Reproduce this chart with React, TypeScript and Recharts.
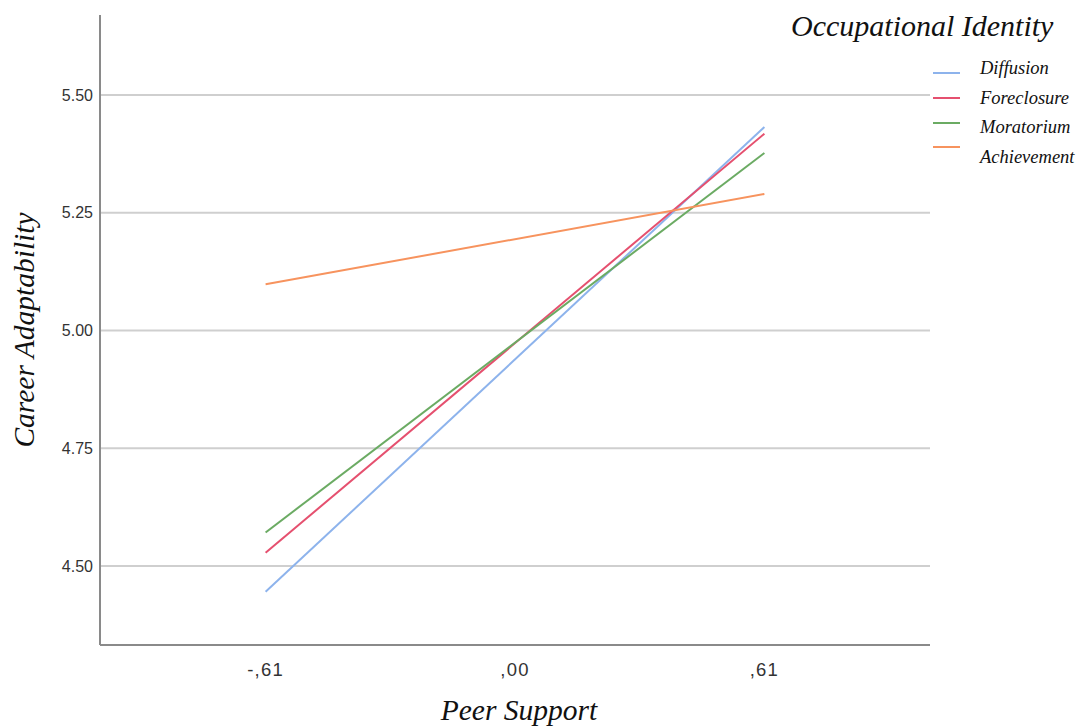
import React from 'react';
import { LineChart, Line, XAxis, YAxis, ReferenceLine, Legend } from 'recharts';

const peerSupport = [-0.61, 0.61];
const diffusion = [4.445, 5.432];
const foreclosure = [4.528, 5.418];
const moratorium = [4.571, 5.377];
const achievement = [5.098, 5.290];

const seriesNames = ['Diffusion', 'Foreclosure', 'Moratorium', 'Achievement'];
const seriesColors = ['#8db3ec', '#e5506f', '#6bab63', '#f7935e'];
const yTicks = [4.5, 4.75, 5.0, 5.25, 5.5];
const xTicks = [-0.61, 0, 0.61];

const data = peerSupport.map((x, i) => ({
  x,
  Diffusion: diffusion[i],
  Foreclosure: foreclosure[i],
  Moratorium: moratorium[i],
  Achievement: achievement[i],
}));

const serif = '"Liberation Serif", "DejaVu Serif", serif';
const sans = '"Liberation Sans", Arial, sans-serif';

const fmtX = (v: number) => {
  if (v === 0) return ',00';
  const s = Math.abs(v).toFixed(2).replace('0.', ',');
  return v < 0 ? '-' + s : s;
};

const legendTextTops = [57, 87, 116, 146];
const swatchTops = [72, 97, 122, 146];

const LegendContent = () => (
  <div style={{ fontFamily: serif, fontStyle: 'italic' }}>
    <div style={{ fontSize: 30, color: '#111', position: 'absolute', left: 791, top: 9, whiteSpace: 'nowrap', lineHeight: '34px' }}>
      Occupational Identity
    </div>
    {seriesNames.map((n, i) => (
      <React.Fragment key={n}>
        <div style={{ position: 'absolute', left: 933, top: swatchTops[i], width: 27, height: 2, background: seriesColors[i] }} />
        <div style={{ position: 'absolute', left: 980, top: legendTextTops[i], fontSize: 18.5, lineHeight: '22px', color: '#111', whiteSpace: 'nowrap' }}>{n}</div>
      </React.Fragment>
    ))}
  </div>
);

export default function App() {
  return (
    <div style={{ position: 'absolute', left: 0, top: 0, background: '#fff' }}>
      <LineChart width={1082} height={726} data={data} margin={{ top: 15, right: 152, bottom: 0, left: 0 }}>
        {yTicks.map((t) => (
          <ReferenceLine key={t} y={t} stroke="#cfcfcf" strokeWidth={2} />
        ))}
        <XAxis
          dataKey="x"
          type="number"
          domain={[-1.015, 1.015]}
          ticks={xTicks}
          tickFormatter={fmtX}
          tickLine={false}
          axisLine={{ stroke: '#8a8a8a', strokeWidth: 2 }}
          tick={{ fill: '#333', fontSize: 18.5, fontFamily: sans, letterSpacing: 1.2 }}
          tickMargin={12}
          height={81}
          label={{ value: 'Peer Support', position: 'insideBottom', offset: 6, dx: 4, style: { fontFamily: serif, fontStyle: 'italic', fontSize: 29.5, fill: '#111' } }}
        />
        <YAxis
          type="number"
          domain={[4.332, 5.67]}
          ticks={yTicks}
          tickFormatter={(v: number) => v.toFixed(2)}
          tickLine={false}
          tickSize={0}
          axisLine={{ stroke: '#8a8a8a', strokeWidth: 2 }}
          tick={{ fill: '#333', fontSize: 16, fontFamily: sans }}
          tickMargin={7}
          width={100}
          allowDataOverflow
          label={{ value: 'Career Adaptability', angle: -90, position: 'insideLeft', offset: 24, style: { textAnchor: 'middle', fontFamily: serif, fontStyle: 'italic', fontSize: 29.5, fill: '#111' } }}
        />
        <Legend content={<LegendContent />} wrapperStyle={{ position: 'absolute', left: 0, top: 0, width: 0, height: 0 }} />
        {seriesNames.map((n, i) => (
          <Line key={n} type="linear" dataKey={n} stroke={seriesColors[i]} strokeWidth={2} dot={false} isAnimationActive={false} />
        ))}
      </LineChart>
    </div>
  );
}
